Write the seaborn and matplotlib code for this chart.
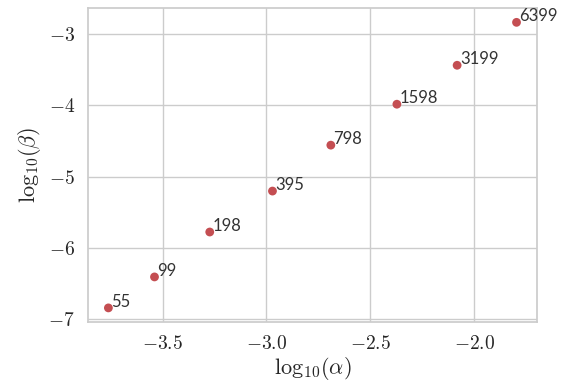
import numpy as np
import matplotlib
matplotlib.use("Agg")
import matplotlib.pyplot as plt
import seaborn as sns
import pandas as pd

# valores
log_alpha = [-3.761, -3.539, -3.273, -2.971, -2.690, -2.372, -2.082, -1.796]
log_beta = [-6.843, -6.408, -5.777, -5.202, -4.557, -3.982, -3.435, -2.832]
etiquetas = ["55", "99", "198", "395", "798", "1598", "3199", "6399"]

df = pd.DataFrame({"x": log_alpha, "y": log_beta, "n": etiquetas})

sns.set_theme(style="whitegrid")
plt.rcParams["font.family"] = "serif"
plt.rcParams["font.serif"] = ["cmr10"]
plt.rcParams["mathtext.fontset"] = "cm"
plt.rcParams["axes.formatter.use_mathtext"] = True

fig, ax = plt.subplots(figsize=(5.64, 3.84), dpi=100)
sns.scatterplot(data=df, x="x", y="y", color="C3", s=40, edgecolor="none", ax=ax)

for _, fila in df.iterrows():
    ax.annotate(fila["n"], (fila["x"], fila["y"]), xytext=(2, 1),
                textcoords="offset points", fontsize=12,
                family="Lato", color="#333333")

ax.set_xlabel(r"$\mathrm{log}_{10}(\alpha)$", fontsize=16, labelpad=1)
ax.set_ylabel(r"$\mathrm{log}_{10}(\beta)$", fontsize=16)
ax.tick_params(labelsize=14)
ax.set_xticks([-3.5, -3.0, -2.5, -2.0])

fig.subplots_adjust(left=0.156, right=0.952, top=0.979, bottom=0.161)
plt.savefig("out.png")
